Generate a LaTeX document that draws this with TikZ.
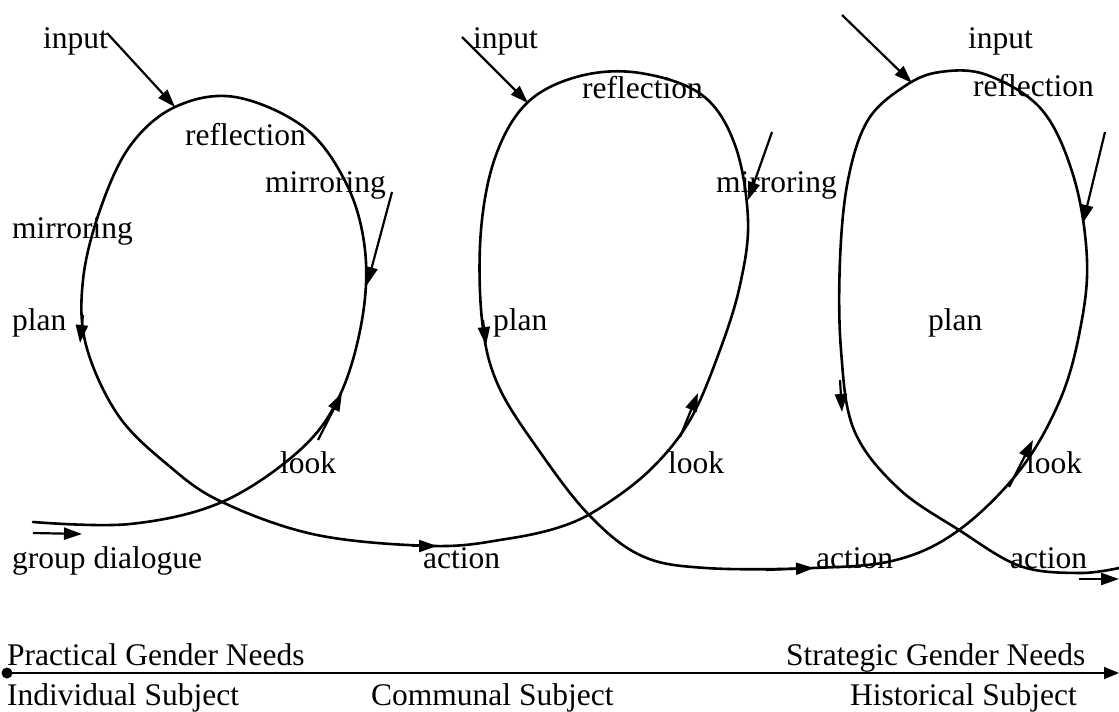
\documentclass[tikz,border=0pt]{standalone}
\usepackage{fontspec}
\setmainfont{Liberation Serif}
\usepackage{tikz}
\usetikzlibrary{arrows.meta}
\newcommand\lblfont{\fontsize{31.5}{36}\selectfont}
\tikzset{
  lbl/.style={anchor=base west,inner sep=0pt,font=\lblfont},
  spiral/.style={line width=2.6pt,line join=round,line cap=round},
  arr/.style={-{Triangle[length=18pt,width=12pt]},line width=2.2pt},
  axis/.style={-{Triangle[length=15pt,width=12pt]},line width=1.8pt}
}
\begin{document}
\begin{tikzpicture}[x=1pt,y=-1pt]
  \useasboundingbox (0,0) rectangle (1119,712);

  % the spiral through the three loops
  \draw[spiral] plot[smooth,tension=0.6] coordinates {
    (33,522) (130,524) (222,502) (300,450) (340,395) (362,320) (365,250)
    (347,185) (305,128) (235,97) (175,107) (130,146) (100,210) (83,280)
    (86,345) (118,415) (168,465) (222,502) (317,535) (435,546) (506,539)
    (560,527) (600,508) (650,470) (690,420) (720,350) (740,285) (748,220)
    (735,145) (702,95) (640,73) (580,76) (528,102) (496,155) (481,230)
    (482,320) (498,385) (540,452) (590,516) (642,556) (706,568) (813,568)
    (896,560) (959,530) (1020,470) (1060,400) (1080,330) (1087,260)
    (1074,178) (1042,110) (987,75) (940,72) (905,86) (868,120) (848,180)
    (840,260) (841,350) (854,430) (898,488) (959,530) (1020,566)
    (1079,573) (1119,568)};

  % short arrows along and onto the spiral
  \foreach \xa/\ya/\xb/\yb in {107/33/175/107, 392/192/367/285, 83/315/80/343,
                     318/440/342/393, 33/533/82/534, 412/546/437/546,
                     462/37/528/103, 772/132/748/200, 483/320/486/345,
                     680/437/698/393, 766/570/814/568, 842/15/912/83,
                     1105/132/1083/223, 840/380/842/412, 1009/487/1033/440,
                     1079/579/1119/579}
    \draw[arr] (\xa,\ya) -- (\xb,\yb);

  % loop labels
  \node[lbl] (inA)   at (43,48)   {input};
  \node[lbl] (refA)  at (185,145) {reflection};
  \node[lbl] (mirA)  at (265,192) {mirroring};
  \node[lbl] (mirL)  at (12,238)  {mirroring};
  \node[lbl] (plA)   at (12,330)  {plan};
  \node[lbl] (lkA)   at (280,473) {look};
  \node[lbl] (grp)   at (12,568)  {group dialogue};
  \node[lbl] (actA)  at (423,568) {action};
  \node[lbl] (inB)   at (473,48)  {input};
  \node[lbl] (refB)  at (582,98)  {reflection};
  \node[lbl] (mirB)  at (716,192) {mirroring};
  \node[lbl] (plB)   at (493,330) {plan};
  \node[lbl] (lkB)   at (668,473) {look};
  \node[lbl] (actB)  at (816,568) {action};
  \node[lbl] (inC)   at (968,48)  {input};
  \node[lbl] (refC)  at (973,96)  {reflection};
  \node[lbl] (plC)   at (928,330) {plan};
  \node[lbl] (lkC)   at (1026,473) {look};
  \node[lbl] (actC)  at (1010,568) {action};

  % axis
  \fill (7,673) circle (5.5);
  \coordinate (axL) at (7,673);
  \coordinate (axR) at (1119,673);
  \draw[axis] (axL) -- (axR);
  \node[lbl] (pgn) at (7,665)   {Practical Gender Needs};
  \node[lbl] (sgn) at (786,665) {Strategic Gender Needs};
  \node[lbl] (ind) at (7,705)   {Individual Subject};
  \node[lbl] (com) at (371,705) {Communal Subject};
  \node[lbl] (his) at (850,705) {Historical Subject};
\end{tikzpicture}
\end{document}
